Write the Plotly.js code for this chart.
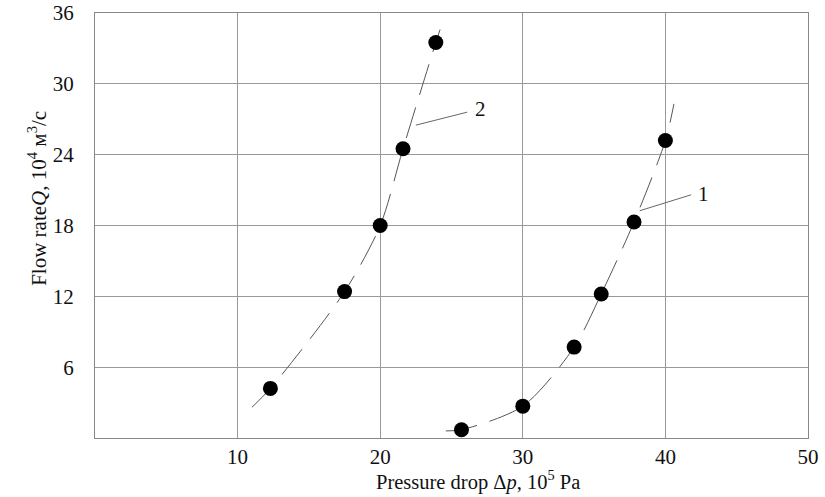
<!DOCTYPE html>
<html>
<head>
<meta charset="utf-8">
<script src="https://cdn.plot.ly/plotly-3.0.1.min.js"></script>
<style>html,body{margin:0;padding:0;background:#fff;}#chart{width:825px;height:497px;}</style>
</head>
<body>
<div id="chart"></div>
<script>
// Measured points, curve 2 (left)
const s2X = [12.3, 17.5, 20.0, 21.6, 23.9];
const s2Y = [4.2, 12.4, 18.0, 24.5, 33.5];
// Measured points, curve 1 (right)
const s1X = [25.7, 30.0, 33.6, 35.5, 37.8, 40.0];
const s1Y = [0.7, 2.7, 7.7, 12.2, 18.3, 25.2];
// Fitted curve ends
const c2Start = [11.0, 2.6], c2End = [24.2, 34.6];
const c1Start = [24.6, 0.6], c1End = [40.6, 28.3];
// Curve labels and leader lines
const labelNames = ["1", "2"];
const labelPos = [[42.7, 20.7], [27.0, 27.9]];
const leaderFrom = [[41.8, 20.6], [26.1, 27.6]];
const leaderTo = [[38.2, 19.25], [22.5, 26.5]];
// Axis ticks
const xTicks = [10, 20, 30, 40, 50];
const yTicks = [6, 12, 18, 24, 30, 36];

const font = '"Liberation Serif", "Times New Roman", serif';
const lineStyle = {color: '#555', width: 1, shape: 'spline', smoothing: 0.8, dash: '32px,13px'};

const traces = [
  {x: [c2Start[0], ...s2X, c2End[0]], y: [c2Start[1], ...s2Y, c2End[1]], mode: 'lines', line: lineStyle, hoverinfo: 'skip'},
  {x: [c1Start[0], ...s1X, c1End[0]], y: [c1Start[1], ...s1Y, c1End[1]], mode: 'lines', line: lineStyle, hoverinfo: 'skip'},
  {x: s2X, y: s2Y, mode: 'markers', marker: {color: '#000', size: 15}},
  {x: s1X, y: s1Y, mode: 'markers', marker: {color: '#000', size: 15}}
];

const shapes = leaderFrom.map((p, i) => ({
  type: 'line', xref: 'x', yref: 'y',
  x0: p[0], y0: p[1], x1: leaderTo[i][0], y1: leaderTo[i][1],
  line: {color: '#666', width: 1}
}));

const annotations = labelNames.map((t, i) => ({
  x: labelPos[i][0], y: labelPos[i][1], xref: 'x', yref: 'y', text: t,
  showarrow: false, font: {family: font, size: 21, color: '#111'}
}));
annotations.push({
  xref: 'paper', yref: 'paper', x: 0.537, y: -0.101, xanchor: 'center', yanchor: 'middle',
  text: 'Pressure drop Δ<i>p</i>, 10<sup>5</sup> Pa',
  showarrow: false, font: {family: font, size: 20.5, color: '#111'}
});
annotations.push({
  xref: 'paper', yref: 'paper', x: -0.08, y: 0.565, xanchor: 'center', yanchor: 'middle', textangle: -90,
  text: 'Flow rate<i>Q</i>, 10<sup>4</sup> м<sup>3</sup>/с',
  showarrow: false, font: {family: font, size: 21, color: '#111'}
});

const layout = {
  width: 825, height: 497,
  margin: {l: 95, r: 17, t: 13, b: 59},
  paper_bgcolor: '#fff', plot_bgcolor: '#fff',
  showlegend: false,
  font: {family: font, size: 21, color: '#111'},
  xaxis: {
    range: [0, 50], tickvals: xTicks, ticktext: xTicks.map(String),
    showgrid: true, gridcolor: '#999', gridwidth: 1,
    showline: true, linecolor: '#888', linewidth: 1, mirror: true,
    zeroline: false, ticks: '',
    tickfont: {family: font, size: 21, color: '#111'}
  },
  yaxis: {
    range: [0, 36], tickvals: yTicks, ticktext: yTicks.map(String),
    showgrid: true, gridcolor: '#999', gridwidth: 1,
    showline: true, linecolor: '#888', linewidth: 1, mirror: true,
    zeroline: false, ticks: 'outside', ticklen: 16, tickcolor: 'rgba(0,0,0,0)',
    tickfont: {family: font, size: 21, color: '#111'}
  },
  shapes: shapes,
  annotations: annotations
};

Plotly.newPlot('chart', traces, layout, {staticPlot: true, displayModeBar: false});
</script>
</body>
</html>
